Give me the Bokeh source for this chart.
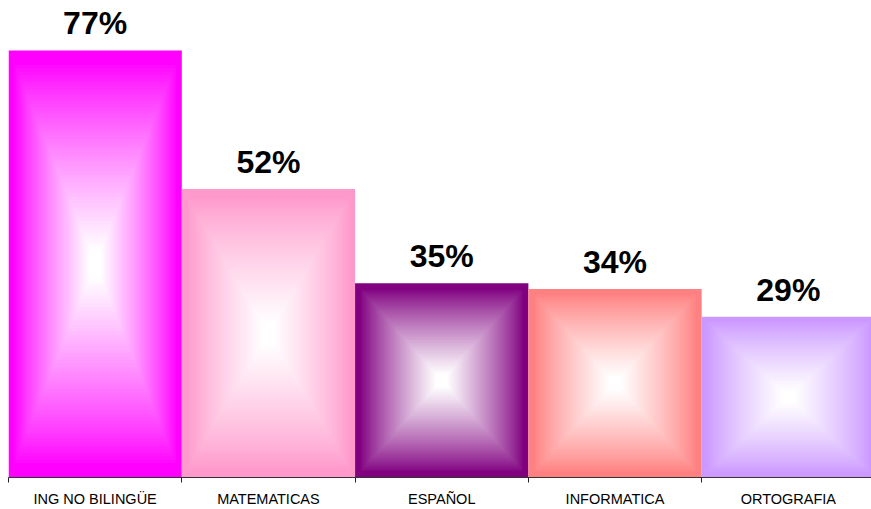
from bokeh.plotting import figure
from bokeh.models import ColumnDataSource, FixedTicker
from bokeh.core.properties import value
from bokeh.embed import file_html
from bokeh.resources import INLINE

categories = ["ING NO BILINGÜE", "MATEMATICAS", "ESPAÑOL", "INFORMATICA", "ORTOGRAFIA"]
values = [77, 52, 35, 34, 29]
edge_colors = ["#FF00FF", "#FF99CC", "#800080", "#FF8080", "#CC99FF"]

N_STEPS = 60


def hex_to_rgb(h):
    h = h.lstrip("#")
    return tuple(int(h[i:i + 2], 16) for i in (0, 2, 4))


def mix(c, t):
    r, g, b = hex_to_rgb(c)
    return "#%02x%02x%02x" % (round(r + (255 - r) * t), round(g + (255 - g) * t), round(b + (255 - b) * t))


left, right, bottom, top, fill = [], [], [], [], []
for i, (v, c) in enumerate(zip(values, edge_colors)):
    for k in range(N_STEPS):
        s = k / N_STEPS
        f = 0.5 * s
        t = min(1.0, max(0.0, (s - 0.05) / 0.88)) ** 0.85
        left.append(i + f)
        right.append(i + 1 - f)
        bottom.append(f * v)
        top.append(v - f * v)
        fill.append(mix(c, t))

src = ColumnDataSource(dict(left=left, right=right, bottom=bottom, top=top, fill=fill))

p = figure(width=871, height=509, x_range=(0, 4.98), y_range=(0, 86.0),
           output_backend="svg", toolbar_location=None,
           min_border_left=8, min_border_right=0, min_border_top=0, min_border_bottom=32,
           y_axis_location=None)
p.quad(left="left", right="right", bottom="bottom", top="top", fill_color="fill",
       line_color=None, source=src)

lab_src = ColumnDataSource(dict(x=[i + 0.5 for i in range(len(values))], y=values,
                                text=[f"{v}%" for v in values]))
p.text(x="x", y="y", text="text", source=lab_src, text_align="center",
       text_baseline="alphabetic", y_offset=-27, text_font=value("Liberation Sans"),
       text_font_style="bold", text_font_size="32px", text_color="black")

centers = [i + 0.5 for i in range(len(categories))]
p.xaxis.ticker = FixedTicker(ticks=centers, minor_ticks=list(range(len(categories) + 1)))
p.xaxis.major_label_overrides = {c: lab for c, lab in zip(centers, categories)}
p.xaxis.major_tick_in = 0
p.xaxis.major_tick_out = 0
p.xaxis.minor_tick_in = 0
p.xaxis.minor_tick_out = 5
p.xaxis.minor_tick_line_color = "#222222"
p.xaxis.axis_line_color = "#333333"
p.xaxis.major_label_standoff = 8
p.xaxis.major_label_text_font = "Liberation Sans"
p.xaxis.major_label_text_font_size = "14.5px"
p.xaxis.major_label_text_color = "black"

p.xgrid.visible = False
p.ygrid.visible = False
p.outline_line_color = None
p.background_fill_color = "white"
p.border_fill_color = "white"

open("out.html", "w").write(file_html(p, INLINE))
